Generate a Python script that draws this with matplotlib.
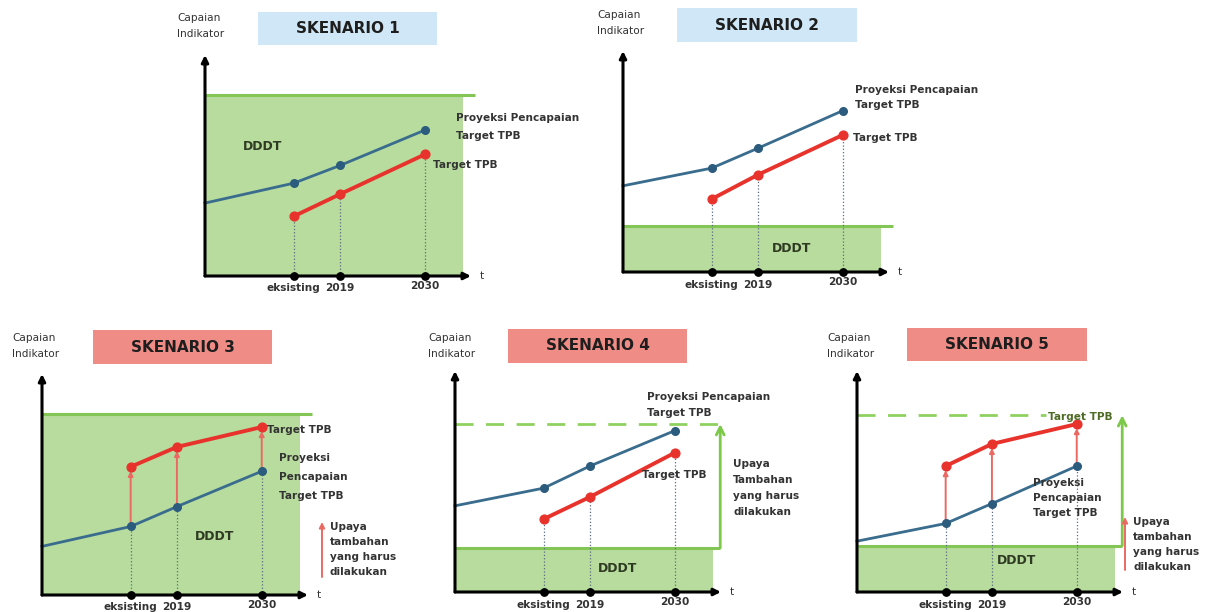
import numpy as np
import matplotlib.pyplot as plt
from matplotlib.patches import Rectangle

W, H = 1209, 612

scenarios = ['SKENARIO 1', 'SKENARIO 2', 'SKENARIO 3', 'SKENARIO 4', 'SKENARIO 5']
t_labels = ['eksisting', '2019', '2030']
t_pos = [2013, 2019, 2030]
t_start, t_end = 2001.5, 2036

# capaian indikator, 0-100 (100 = top of the y-axis arrow)
proj_start = [33, 39, 22, 39, 23]
proj = [[42, 50, 66], [47, 56, 73], [31, 40, 56], [47, 57, 73], [31, 40, 57]]
target = [[27, 37, 55], [33, 44, 62], [58, 67, 76], [33, 43, 63], [57, 67, 76]]
dddt = [82, 21, 82, 20, 21]
target_level = [None, None, None, 76, 80]
extra_effort = [False, False, True, False, True]

# layout (pixels): axis origin, title box
origins = [(205, 276), (623, 272), (42, 595), (455, 592), (857, 592)]
title_boxes = [(258, 12, 437, 45), (677, 8, 857, 42), (93, 330, 272, 364),
               (508, 329, 687, 363), (907, 328, 1087, 361)]
title_colors = ['#cfe7f6', '#cfe7f6', '#ef8c86', '#ef8c86', '#ef8c86']
capaian_pos = [(177, 18), (597, 15), (12, 338), (428, 338), (827, 338)]
dddt_pos = [(263, 147), (792, 248), (215, 537), (618, 569), (1017, 560)]
pw, ph = 266, 221

c_fill = '#b7dc9e'
c_gline = '#84c656'
c_blue = '#3a6c8e'
c_red = '#e8332d'
c_red2 = '#ea6a63'
c_txt = '#333333'
fs = 7.6

fig = plt.figure(figsize=(W / 100, H / 100), dpi=100)
ov = fig.add_axes([0, 0, 1, 1])
ov.set_xlim(0, W)
ov.set_ylim(H, 0)
ov.axis('off')
ov.set_zorder(20)


def lines(x, y, txt, dy=16, color=c_txt, weight='bold'):
    for i, s in enumerate(txt.split('\n')):
        ov.text(x, y + i * dy, s, va='center', ha='left', fontsize=fs,
                fontweight=weight, color=color, zorder=10)


for i in range(5):
    x0, y0 = origins[i]
    ax = fig.add_axes([x0 / W, (H - y0) / H, pw / W, ph / H])
    ax.set_xlim(t_start, t_end)
    ax.set_ylim(0, 100)
    ax.axis('off')

    # DDDT area
    ax.axhspan(0, dddt[i], xmin=0, xmax=0.97, color=c_fill, zorder=0, lw=0)
    gl_end = t_end + 0.5 if target_level[i] is None else t_end - 0.1
    ax.plot([t_start, gl_end], [dddt[i], dddt[i]], color=c_gline, lw=2.2,
            clip_on=False, zorder=1, solid_capstyle='butt')

    if target_level[i] is not None:
        d_end = t_end if i == 3 else 2026
        ax.plot([t_start, d_end], [target_level[i]] * 2, color='#8fd160', lw=2,
                ls=(0, (6.5, 4.5)), clip_on=False, zorder=1)
        ax.annotate('', xy=(t_end - 0.1, target_level[i]),
                    xytext=(t_end - 0.1, dddt[i]),
                    arrowprops=dict(arrowstyle='->', color='#7cc94a', lw=2,
                                    mutation_scale=14, shrinkA=0, shrinkB=0),
                    annotation_clip=False)

    # drop lines and axis points
    low = np.minimum(proj[i], target[i])
    ax.vlines(t_pos, 0, low, colors='#5a6a80', linestyles=':', lw=0.9, zorder=2)
    ax.scatter(t_pos, [0] * 3, s=28, color='black', zorder=6, clip_on=False)

    # projection & target
    ax.plot([t_start] + t_pos, [proj_start[i]] + proj[i], color=c_blue, lw=2,
            zorder=3, clip_on=False)
    ax.scatter(t_pos, proj[i], s=30, color='#2b5b7d', zorder=4)
    ax.plot(t_pos, target[i], color=c_red, lw=2.8, zorder=3)
    ax.scatter(t_pos, target[i], s=40, color=c_red, zorder=4)

    if extra_effort[i]:
        for t, p, g in zip(t_pos, proj[i], target[i]):
            ax.annotate('', xy=(t, g), xytext=(t, p),
                        arrowprops=dict(arrowstyle='-|>', color=c_red2, lw=1.4,
                                        mutation_scale=7, shrinkA=2, shrinkB=3),
                        zorder=2)

    # axes
    for xy in [(0, 1), (1, 0)]:
        ax.annotate('', xy=xy, xytext=(0, 0), xycoords='axes fraction',
                    arrowprops=dict(arrowstyle='-|>', color='black', lw=2.2,
                                    mutation_scale=10, shrinkA=0, shrinkB=0),
                    annotation_clip=False, zorder=7)
    for t, lab in zip(t_pos, t_labels):
        dy = -9 if lab != '2030' else -7
        ax.annotate(lab, (t, 0), xytext=(0, dy), textcoords='offset points',
                    ha='center', va='center', fontsize=fs, fontweight='bold',
                    color=c_txt, annotation_clip=False)
    ax.annotate('t', (1, 0), xycoords='axes fraction', xytext=(8, 0),
                textcoords='offset points', ha='center', va='center',
                fontsize=fs, color=c_txt, annotation_clip=False)

    # title box
    bx0, by0, bx1, by1 = title_boxes[i]
    ov.add_patch(Rectangle((bx0, by0), bx1 - bx0, by1 - by0,
                           facecolor=title_colors[i], edgecolor='none'))
    ov.text((bx0 + bx1) / 2, (by0 + by1) / 2, scenarios[i], ha='center',
            va='center', fontsize=11, fontweight='bold', color='#1e1e1e')

    cx, cy = capaian_pos[i]
    lines(cx, cy, 'Capaian\nIndikator', dy=16, weight='normal')
    ov.text(dddt_pos[i][0], dddt_pos[i][1], 'DDDT', ha='center', va='center',
            fontsize=9, fontweight='bold', color='#2f3a22', zorder=10)

# series labels
lines(456, 118, 'Proyeksi Pencapaian\nTarget TPB', dy=18)
lines(433, 165, 'Target TPB')
lines(855, 90, 'Proyeksi Pencapaian\nTarget TPB', dy=15)
lines(853, 138, 'Target TPB')
lines(267, 430, 'Target TPB')
lines(279, 458, 'Proyeksi\nPencapaian\nTarget TPB', dy=19)
lines(330, 527, 'Upaya\ntambahan\nyang harus\ndilakukan', dy=15)
lines(647, 397, 'Proyeksi Pencapaian\nTarget TPB', dy=16)
lines(642, 475, 'Target TPB')
lines(733, 464, 'Upaya\nTambahan\nyang harus\ndilakukan', dy=16)
lines(1048, 417, 'Target TPB', color='#4d6b24')
lines(1033, 483, 'Proyeksi\nPencapaian\nTarget TPB', dy=15)
lines(1133, 522, 'Upaya\ntambahan\nyang harus\ndilakukan', dy=15)

for ax_x, ya, yb in [(322, 577, 522), (1125, 570, 517)]:
    ov.annotate('', xy=(ax_x, yb), xytext=(ax_x, ya),
                arrowprops=dict(arrowstyle='-|>', color=c_red2, lw=1.4,
                                mutation_scale=8, shrinkA=0, shrinkB=0))

fig.savefig('out.png', dpi=100)
